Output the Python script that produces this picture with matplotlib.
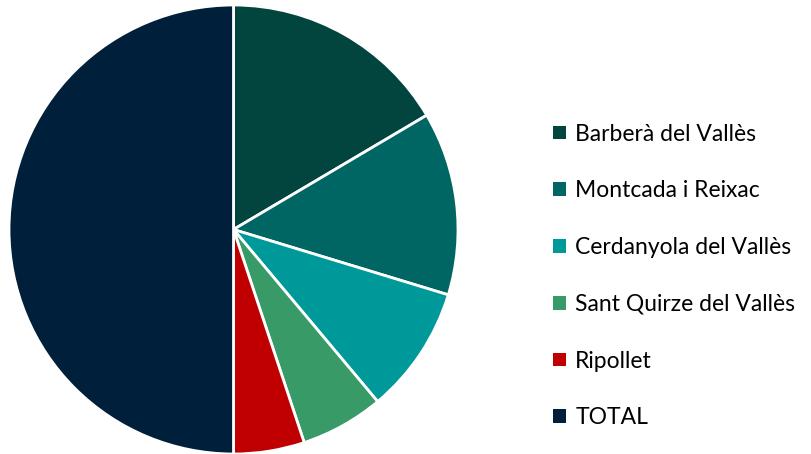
import matplotlib.pyplot as plt
from matplotlib.patches import Patch

labels = ['Barberà del Vallès', 'Montcada i Reixac', 'Cerdanyola del Vallès',
          'Sant Quirze del Vallès', 'Ripollet', 'TOTAL']
values = [16.5, 13.2, 9.2, 6.0, 5.1, 50.0]
colors = ['#02453E', '#006663', '#009999', '#379A67', '#C00000', '#001F3A']

plt.rcParams['font.family'] = ['Lato', 'DejaVu Sans']

fig = plt.figure(figsize=(8.12, 4.54), dpi=100)
ax = fig.add_axes([9 / 812, 0, 449 / 812, 449 / 454])
ax.pie(values, colors=colors, startangle=90, counterclock=False, radius=1,
       wedgeprops=dict(edgecolor='white', linewidth=2))
ax.set_xlim(-1, 1)
ax.set_ylim(-1, 1)
ax.set_aspect('equal')
ax.axis('off')

handles = [Patch(facecolor=c, edgecolor='none') for c in colors]
fig.legend(handles, labels, loc='center left', bbox_to_anchor=(542 / 812, 0.392),
           frameon=False, fontsize=16.5, labelspacing=1.56, borderpad=0,
           handlelength=0.55, handleheight=0.55, handletextpad=0.4)

fig.savefig('out.png', dpi=100)
